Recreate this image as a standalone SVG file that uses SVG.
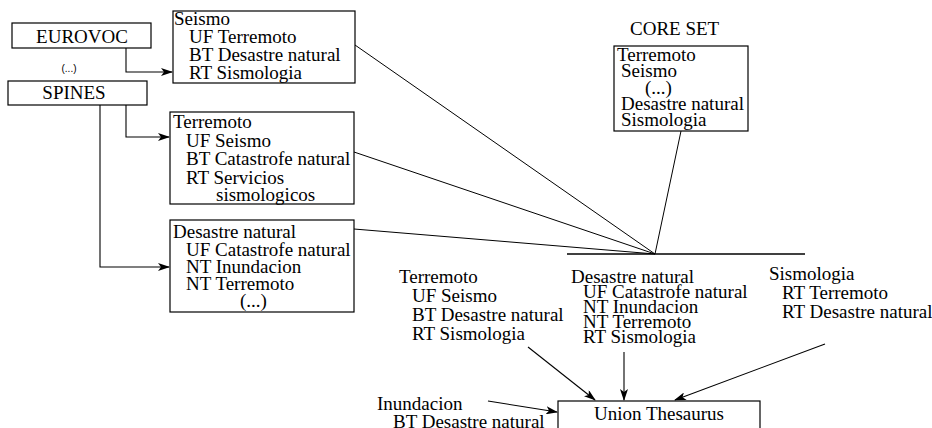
<svg xmlns="http://www.w3.org/2000/svg" width="932" height="428" viewBox="0 0 932 428">
<style>
  .box { fill: #fff; stroke: #000; stroke-width: 1.2; }
  text { font-family: "Liberation Serif", "Times New Roman", serif; font-size: 19px; fill: #000; }
  .small { font-family: "Liberation Sans", Arial, sans-serif; font-size: 10px; }
  .ln { fill: none; stroke: #000; stroke-width: 1; }
  .arr { fill: none; stroke: #000; stroke-width: 1.1; marker-end: url(#ah); }
</style>
<defs>
  <marker id="ah" viewBox="0 0 12 8" refX="11" refY="4" markerWidth="12" markerHeight="8" markerUnits="userSpaceOnUse" orient="auto">
    <path d="M0,0 L12,4 L0,8 L3,4 Z" fill="#000"/>
  </marker>
</defs>
<rect width="932" height="428" fill="#fff"/>

<g id="connectors">
  <polyline class="arr" points="126,48 126,72 172,72"/>
  <polyline class="arr" points="126,105 126,137 169,137"/>
  <polyline class="arr" points="100,105 100,267 169,267"/>
  <line class="ln" x1="355" y1="45" x2="655" y2="254"/>
  <line class="ln" x1="354" y1="152" x2="655" y2="254"/>
  <line class="ln" x1="354" y1="229" x2="655" y2="254"/>
  <line class="ln" x1="681" y1="131" x2="655" y2="254"/>
  <line class="ln" x1="567" y1="254" x2="805" y2="254" style="stroke-width:1.3"/>
  <line class="arr" x1="528" y1="347" x2="595" y2="400"/>
  <line class="arr" x1="624" y1="352" x2="624" y2="400"/>
  <line class="arr" x1="825" y1="344" x2="675" y2="400"/>
  <line class="arr" x1="488" y1="401" x2="557" y2="412"/>
</g>

<g id="eurovoc">
  <rect class="box" x="12" y="23" width="139" height="25"/>
  <text x="82" y="43" text-anchor="middle">EUROVOC</text>
</g>
<g id="ellipsis">
  <text class="small" x="69" y="72" text-anchor="middle">(...)</text>
</g>
<g id="spines">
  <rect class="box" x="8" y="81" width="139" height="24"/>
  <text x="74" y="99" text-anchor="middle">SPINES</text>
</g>

<g id="seismo">
  <rect class="box" x="173" y="11" width="182" height="72"/>
  <text x="174" y="25">Seismo</text>
  <text x="189" y="43">UF Terremoto</text>
  <text x="189" y="61">BT Desastre natural</text>
  <text x="189" y="79">RT Sismologia</text>
</g>

<g id="terremoto">
  <rect class="box" x="170" y="112" width="184" height="92"/>
  <text x="173" y="128">Terremoto</text>
  <text x="186" y="147">UF Seismo</text>
  <text x="186" y="165">BT Catastrofe natural</text>
  <text x="186" y="184">RT Servicios</text>
  <text x="216" y="201">sismologicos</text>
</g>

<g id="desastre">
  <rect class="box" x="170" y="220" width="184" height="92"/>
  <text x="173" y="238">Desastre natural</text>
  <text x="186" y="256">UF Catastrofe natural</text>
  <text x="186" y="273">NT Inundacion</text>
  <text x="186" y="290">NT Terremoto</text>
  <text x="240" y="307">(...)</text>
</g>

<g id="coreset">
  <text x="630" y="35">CORE  SET</text>
  <rect class="box" x="614" y="46" width="134" height="85"/>
  <text x="617" y="61">Terremoto</text>
  <text x="621" y="77">Seismo</text>
  <text x="645" y="94">(...)</text>
  <text x="621" y="110">Desastre natural</text>
  <text x="621" y="126">Sismologia</text>
</g>

<g id="u-terremoto">
  <text x="399" y="283">Terremoto</text>
  <text x="412" y="302">UF Seismo</text>
  <text x="412" y="321">BT Desastre natural</text>
  <text x="412" y="340">RT Sismologia</text>
</g>

<g id="u-desastre">
  <text x="571" y="283">Desastre natural</text>
  <text x="583" y="298">UF Catastrofe natural</text>
  <text x="583" y="313">NT Inundacion</text>
  <text x="583" y="328">NT Terremoto</text>
  <text x="583" y="343">RT Sismologia</text>
</g>

<g id="u-sismologia">
  <text x="769" y="280">Sismologia</text>
  <text x="782" y="299">RT Terremoto</text>
  <text x="782" y="318">RT Desastre natural</text>
</g>

<g id="inundacion">
  <text x="377" y="410">Inundacion</text>
  <text x="393" y="428">BT Desastre natural</text>
</g>

<g id="union">
  <rect class="box" x="558" y="401" width="202" height="30"/>
  <text x="659" y="420" text-anchor="middle">Union Thesaurus</text>
</g>
</svg>
